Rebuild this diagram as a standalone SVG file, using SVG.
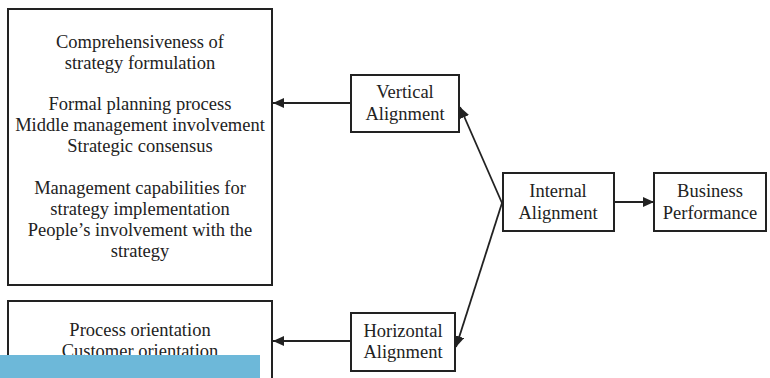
<svg xmlns="http://www.w3.org/2000/svg" width="770" height="378" viewBox="0 0 770 378">
<defs>
<style>
.box{fill:#fff;stroke:#222;stroke-width:2}
.t{font-family:"Liberation Serif","Times New Roman",serif;font-size:18.5px;fill:#222;text-anchor:middle}
.c{stroke:#222;stroke-width:1.8;fill:none;marker-end:url(#ah)}
</style>
<marker id="ah" markerUnits="userSpaceOnUse" markerWidth="12" markerHeight="10" refX="11" refY="5" orient="auto">
<path d="M0,0 L11,5 L0,10 Z" fill="#222"/>
</marker>
</defs>
<rect width="770" height="378" fill="#fff"/>
<g id="strategy-box">
<rect class="box" x="8" y="9" width="264" height="276"/>
<text class="t" x="140" y="48">Comprehensiveness of</text>
<text class="t" x="140" y="69">strategy formulation</text>
<text class="t" x="140" y="110">Formal planning process</text>
<text class="t" x="140" y="131">Middle management involvement</text>
<text class="t" x="140" y="152">Strategic consensus</text>
<text class="t" x="140" y="194">Management capabilities for</text>
<text class="t" x="140" y="215">strategy implementation</text>
<text class="t" x="140" y="236">People’s involvement with the</text>
<text class="t" x="140" y="257">strategy</text>
</g>
<g id="process-box">
<rect class="box" x="8" y="301" width="264" height="90"/>
<text class="t" x="140" y="336">Process orientation</text>
<text class="t" x="140" y="357">Customer orientation</text>
</g>
<g id="vertical">
<rect class="box" x="351" y="75" width="108" height="57"/>
<text class="t" x="405" y="98">Vertical</text>
<text class="t" x="405" y="120">Alignment</text>
</g>
<g id="horizontal">
<rect class="box" x="351" y="313" width="104" height="58"/>
<text class="t" x="403" y="337">Horizontal</text>
<text class="t" x="403" y="358">Alignment</text>
</g>
<g id="internal">
<rect class="box" x="503" y="173" width="111" height="58"/>
<text class="t" x="558" y="197">Internal</text>
<text class="t" x="558" y="219">Alignment</text>
</g>
<g id="business">
<rect class="box" x="654" y="173" width="112" height="58"/>
<text class="t" x="710" y="197">Business</text>
<text class="t" x="710" y="219">Performance</text>
</g>
<g id="connectors">
<line class="c" x1="351" y1="103" x2="273" y2="103"/>
<line class="c" x1="351" y1="341" x2="273" y2="341"/>
<line class="c" x1="614" y1="202" x2="654" y2="202"/>
<line class="c" x1="502" y1="203" x2="460" y2="107"/>
<line class="c" x1="502" y1="203" x2="456" y2="347"/>
</g>
<rect x="0" y="355" width="260" height="23" fill="#6db8d9"/>
</svg>
